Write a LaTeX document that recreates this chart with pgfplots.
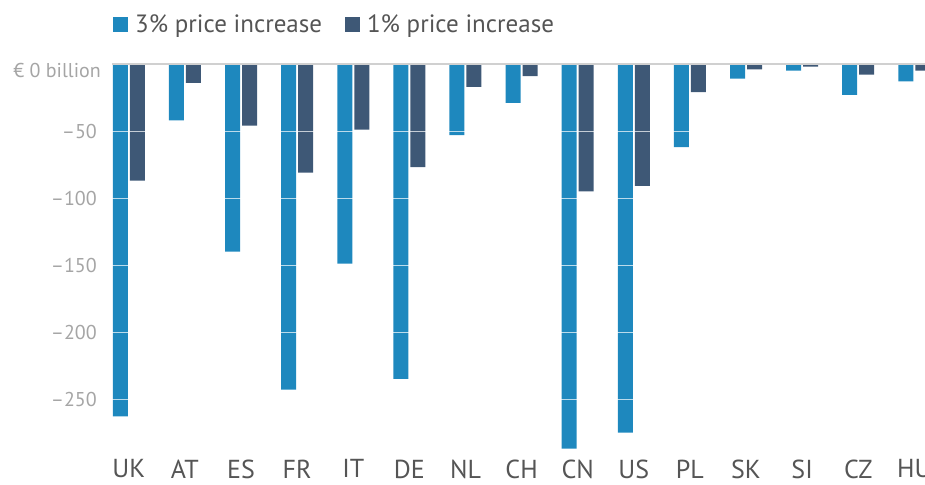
\documentclass[border=0pt]{standalone}
\usepackage{fontspec}
\setmainfont{PT Sans}
\usepackage{pgfplots}
\pgfplotsset{compat=1.18}
\usepackage{pgfplotstable}

\definecolor{barblue}{RGB}{30,136,190}
\definecolor{bardark}{RGB}{62,88,118}
\definecolor{ticklab}{RGB}{165,165,165}
\definecolor{catlab}{RGB}{85,85,85}
\definecolor{zeroline}{RGB}{208,208,208}

% loss in EUR billion, 3% and 1% price increase
\pgfplotstableread{
idx cat p3 p1
0  UK -263 -87
1  AT -42  -14
2  ES -140 -46
3  FR -243 -81
4  IT -149 -49
5  DE -235 -77
6  NL -53  -17
7  CH -29  -9
8  CN -287 -95
9  US -275 -91
10 PL -62  -21
11 SK -11  -4
12 SI -5   -2
13 CZ -23  -8
14 HU -13  -5
}\loss

\begin{document}
\begin{tikzpicture}
\begin{axis}[
    name=ax,
    at={(112pt,-64pt)}, anchor=north west,
    scale only axis,
    width=813pt, height=391.3pt,
    xmin=-0.3, xmax=14.19,
    ymin=-292, ymax=0,
    ybar=2pt, bar width=15pt,
    axis on top,
    axis line style={draw=none},
    tick style={draw=none},
    xtick={0,...,14},
    xticklabels={UK,AT,ES,FR,IT,DE,NL,CH,CN,US,PL,SK,SI,CZ,HU},
    xticklabel style={font=\fontsize{26}{30}\selectfont, text=catlab, inner sep=0pt, yshift=0pt},
    ytick={-250,-200,-150,-100,-50},
    yticklabels={\textendash250,\textendash200,\textendash150,\textendash100,\textendash50},
    yticklabel style={font=\fontsize{20}{24}\selectfont, text=ticklab, inner sep=0pt, xshift=-15pt},
    extra y ticks={0},
    extra y tick labels={€ 0 billion},
    extra y tick style={yticklabel style={yshift=-6pt, xshift=4pt}},
    ymajorgrids,
    major grid style={white, line width=1pt, opacity=0.7},
    legend columns=2,
    legend style={at={(0,1)}, anchor=south west, xshift=1pt, yshift=27pt,
        draw=none, fill=none, inner sep=0pt,
        font=\fontsize{25}{29}\selectfont, text=catlab,
        nodes={inner sep=3pt},
        /tikz/every odd column/.append style={column sep=4pt},
        /tikz/every even column/.append style={column sep=20pt}},
    legend image code/.code={\path[#1] (0pt,-7.5pt) rectangle (15pt,7.5pt);},
]
\addplot[fill=barblue, draw=none] table[x=idx,y=p3]{\loss};
\addplot[fill=bardark, draw=none] table[x=idx,y=p1]{\loss};
\legend{3\% price increase, 1\% price increase}
\end{axis}
\draw[zeroline, line width=1.5pt] (ax.north west) -- (ax.north east);
\pgfresetboundingbox
\path[use as bounding box] (0,0) rectangle (925pt,-484pt);
\end{tikzpicture}
\end{document}
